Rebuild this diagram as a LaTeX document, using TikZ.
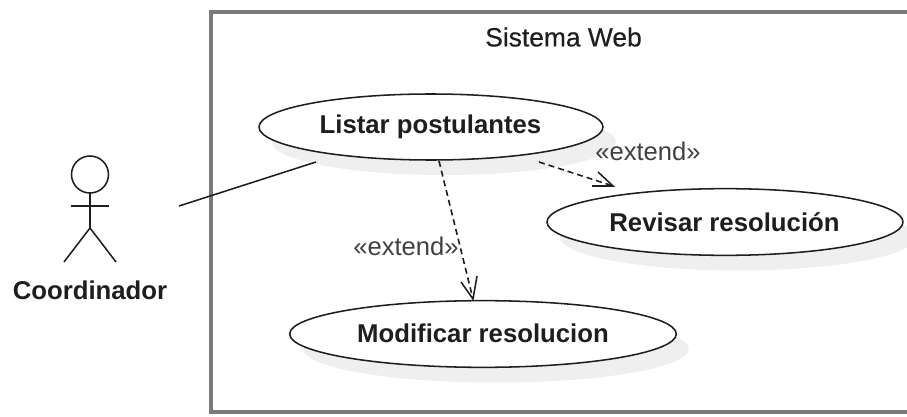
\documentclass[tikz,border=0pt]{standalone}
\usepackage{fontspec}
\usetikzlibrary{shapes.geometric}
\setmainfont{Liberation Sans}
\newfontfamily\semifont[FakeBold=0.35]{Liberation Sans}
\definecolor{ink}{HTML}{1E1E1E}
\definecolor{shade}{HTML}{EFEFEF}
\definecolor{framec}{HTML}{7A7A7A}
\begin{document}
\begin{tikzpicture}[x=0.75pt,y=-0.75pt,
  usecase/.style={ellipse,draw=ink,line width=1.15pt,fill=white,inner sep=0pt,outer sep=0pt},
  ushadow/.style={fill=shade,draw=none},
  lbl/.style={text=ink,font=\fontsize{19.3}{22}\selectfont\bfseries,inner sep=0pt},
  titlelbl/.style={text=ink,font=\fontsize{19.8}{22}\selectfont\semifont,inner sep=0pt},
  stereo/.style={text=ink!85,font=\fontsize{19.2}{22}\selectfont,inner sep=0pt},
  stick/.style={draw=ink,line width=1.15pt},
  dep/.style={draw=ink,line width=1.2pt,dash pattern=on 4.5pt off 3pt},
  tip/.style={draw=ink,line width=1.15pt}]
\useasboundingbox (0,0) rectangle (907,417);
\fill[white] (0,0) rectangle (907,417);
\draw[framec,line width=2.6pt] (912,12) -- (211,12) -- (211,412) -- (912,412);
\node[titlelbl] (title) at (563.5,37) {Sistema Web};
% shadows
\fill[ushadow] (444,142) ellipse [x radius=172, y radius=33];
\fill[ushadow] (738,237) ellipse [x radius=178, y radius=33.5];
\fill[ushadow] (496,349) ellipse [x radius=193, y radius=33.5];
% use cases
\node[usecase,minimum width=258pt,minimum height=49.5pt] (listar) at (431,127) {};
\node[lbl] (listarT) at (430.5,127) {Listar postulantes};
\node[usecase,minimum width=267pt,minimum height=50pt] (revisar) at (725,222) {};
\node[lbl] (revisarT) at (724.5,222) {Revisar resolución};
\node[usecase,minimum width=290pt,minimum height=50pt] (modificar) at (483,334) {};
\node[lbl] (modificarT) at (483,333) {Modificar resolucion};
% actor
\draw[stick] (90,174.5) circle [radius=18.5];
\draw[stick] (90,193) -- (90,228);
\draw[stick] (71,206) -- (109,206);
\draw[stick] (64,262) -- (90,228) -- (116,262);
\node[lbl] (actor) at (90,290) {Coordinador};
% connectors
\coordinate (afree) at (179,206);
\coordinate (lfree) at (316,162);
\draw[ink,line width=1.15pt] (afree) -- (lfree);
\coordinate (d1s) at (439,161);
\coordinate (d1e) at (473,299);
\draw[dep] (d1s) -- (d1e);
\draw[tip] (461,282) -- (d1e) -- (477,276);
\coordinate (d2s) at (539,162);
\coordinate (d2e) at (613,186);
\draw[dep] (d2s) -- (d2e);
\draw[tip] (592,186) -- (d2e) -- (598,172);
\node[stereo] (e1) at (406,246) {«extend»};
\node[stereo] (e2) at (648,151) {«extend»};
\end{tikzpicture}
\end{document}
